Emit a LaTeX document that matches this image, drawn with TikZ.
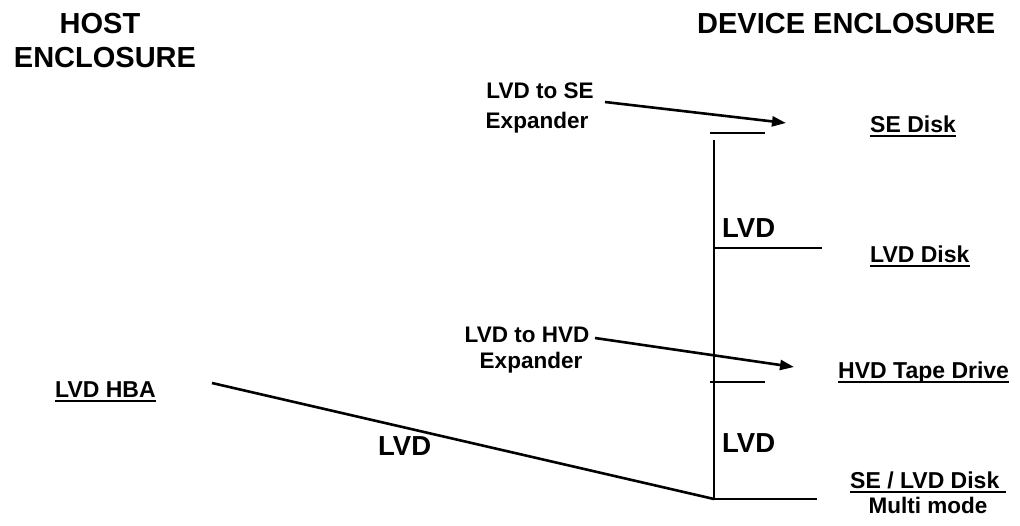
\documentclass[tikz,border=0pt]{standalone}
\usepackage{fontspec}
\setmainfont{Liberation Sans}
\usetikzlibrary{arrows.meta}
\begin{document}
\begin{tikzpicture}[x=1pt,y=-1pt,
  head/.style={font=\fontsize{29}{34}\selectfont\bfseries,inner sep=0pt},
  big/.style={font=\fontsize{27.5}{32}\selectfont\bfseries,inner sep=0pt,anchor=base west},
  lab/.style={font=\fontsize{22.5}{30}\selectfont\bfseries,inner sep=0pt},
  dev/.style={font=\fontsize{23}{30}\selectfont\bfseries,inner sep=0pt,anchor=base west},
  wire/.style={line width=2.6pt},
  ul/.style={line width=2.4pt},
  pointer/.style={line width=2.6pt,-{Triangle[length=14pt,width=10pt]}}]
\useasboundingbox (0,0) rectangle (1020,525);
% headings
\node[head,anchor=base] (host1) at (100,33) {HOST};
\node[head,anchor=base] (host2) at (105,67) {ENCLOSURE};
\node[head,anchor=base west] (devh) at (697,33) {DEVICE ENCLOSURE};
% expander labels
\node[lab,anchor=base] (x1a) at (540,98) {LVD to SE};
\node[lab,anchor=base] (x1b) at (537,128) {Expander};
\node[lab,anchor=base] (x2a) at (527,342) {LVD to HVD};
\node[lab,anchor=base] (x2b) at (531,368) {Expander};
% devices
\node[dev] (se) at (870,132) {SE Disk};
\node[dev] (lvdd) at (870,262) {LVD Disk};
\node[dev] (hvd) at (838,378) {HVD Tape Drive};
\node[dev] (hba) at (55,397) {LVD HBA};
\node[dev] (sel) at (850,488) {SE / LVD Disk};
\node[lab,anchor=base] (mm) at (928,513) {Multi mode};
% bus labels
\node[big] (b1) at (722,237) {LVD};
\node[big] (b2) at (722,452) {LVD};
\node[big] (b3) at (378,455) {LVD};
% underlines
\foreach \n in {se,lvdd,hvd,hba}{
  \draw[ul] ([yshift=-4pt]\n.base west) -- ([yshift=-4pt]\n.base east);}
\draw[ul] ([yshift=-4pt]sel.base west) -- ([xshift=6pt,yshift=-4pt]sel.base east);
% bus geometry
\coordinate (vtop) at (714,140);
\coordinate (vbot) at (714,499);
\coordinate (t1a) at (710,133);
\coordinate (t1b) at (765,133);
\coordinate (t2a) at (710,382);
\coordinate (t2b) at (765,382);
\coordinate (d2) at (822,248);
\coordinate (d2s) at (714,248);
\coordinate (d4) at (817,499);
\coordinate (hbaend) at (212,383);
\coordinate (a1s) at (605,102);
\coordinate (a1e) at (786,123);
\coordinate (a2s) at (595,338);
\coordinate (a2e) at (794,367);
\draw[wire] (vtop) -- (vbot);
\draw[wire] (t1a) -- (t1b);
\draw[wire] (t2a) -- (t2b);
\draw[wire] (d2s) -- (d2);
\draw[wire] (vbot) -- (d4);
\draw[wire] (hbaend) -- (vbot);
\draw[pointer] (a1s) -- (a1e);
\draw[pointer] (a2s) -- (a2e);
\end{tikzpicture}
\end{document}
